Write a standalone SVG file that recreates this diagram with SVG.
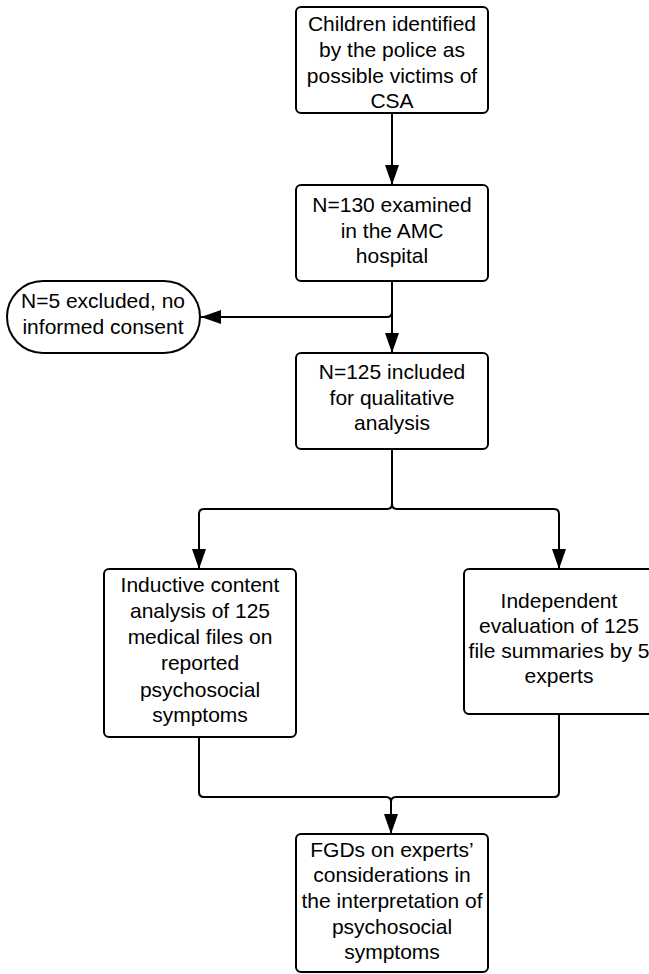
<svg xmlns="http://www.w3.org/2000/svg" width="649" height="974" viewBox="0 0 649 974">
<style>
.box{fill:#fff;stroke:#000;stroke-width:2}
.t{font-family:"Liberation Sans",Arial,sans-serif;font-size:21px;fill:#000;text-anchor:middle}
.c{fill:none;stroke:#000;stroke-width:2}
</style>
<defs>
<marker id="arr" markerUnits="userSpaceOnUse" markerWidth="22" markerHeight="16" refX="20" refY="7" orient="auto">
<path d="M0,0 L20,7 L0,14 Z" fill="#000"/>
</marker>
</defs>
<rect width="649" height="974" fill="#fff"/>
<g id="connectors">
<path class="c" d="M392,113 V185" marker-end="url(#arr)"/>
<path class="c" d="M392,281 V353" marker-end="url(#arr)"/>
<path class="c" d="M392,281 V312 Q392,317 387,317 H201" marker-end="url(#arr)"/>
<path class="c" d="M392,449 V504 Q392,509 387,509 H204 Q199,509 199,514 V569" marker-end="url(#arr)"/>
<path class="c" d="M392,449 V504 Q392,509 397,509 H554 Q559,509 559,514 V569" marker-end="url(#arr)"/>
<path class="c" d="M199,737 V792 Q199,797 204,797 H386 Q391,797 391,802 V834" marker-end="url(#arr)"/>
<path class="c" d="M559,714 V792 Q559,797 554,797 H396 Q391,797 391,802"/>
</g>
<g id="n1">
<rect class="box" x="296" y="7" width="192" height="106" rx="5"/>
<text class="t" x="392" y="31">Children identified</text>
<text class="t" x="392" y="57">by the police as</text>
<text class="t" x="392" y="83">possible victims of</text>
<text class="t" x="392" y="108">CSA</text>
</g>
<g id="n2">
<rect class="box" x="296" y="185" width="192" height="96" rx="5"/>
<text class="t" x="392" y="212">N=130 examined</text>
<text class="t" x="392" y="238">in the AMC</text>
<text class="t" x="392" y="263">hospital</text>
</g>
<g id="n_excluded">
<rect class="box" x="7" y="281" width="193" height="72" rx="36" ry="36"/>
<text class="t" x="103" y="308">N=5 excluded, no</text>
<text class="t" x="103" y="334">informed consent</text>
</g>
<g id="n3">
<rect class="box" x="296" y="353" width="192" height="96" rx="5"/>
<text class="t" x="392" y="379">N=125 included</text>
<text class="t" x="392" y="405">for qualitative</text>
<text class="t" x="392" y="430">analysis</text>
</g>
<g id="n4">
<rect class="box" x="104" y="569" width="192" height="168" rx="5"/>
<text class="t" x="200" y="592">Inductive content</text>
<text class="t" x="200" y="618">analysis of 125</text>
<text class="t" x="200" y="644">medical files on</text>
<text class="t" x="200" y="670">reported</text>
<text class="t" x="200" y="697">psychosocial</text>
<text class="t" x="200" y="722">symptoms</text>
</g>
<g id="n5">
<rect class="box" x="464" y="569" width="192" height="145" rx="5"/>
<text class="t" x="559" y="608">Independent</text>
<text class="t" x="559" y="633">evaluation of 125</text>
<text class="t" x="559" y="658">file summaries by 5</text>
<text class="t" x="559" y="683">experts</text>
</g>
<g id="n6">
<rect class="box" x="296" y="834" width="192" height="138" rx="5"/>
<text class="t" x="392" y="857">FGDs on experts’</text>
<text class="t" x="392" y="882">considerations in</text>
<text class="t" x="392" y="908">the interpretation of</text>
<text class="t" x="392" y="934">psychosocial</text>
<text class="t" x="392" y="959">symptoms</text>
</g>
</svg>
